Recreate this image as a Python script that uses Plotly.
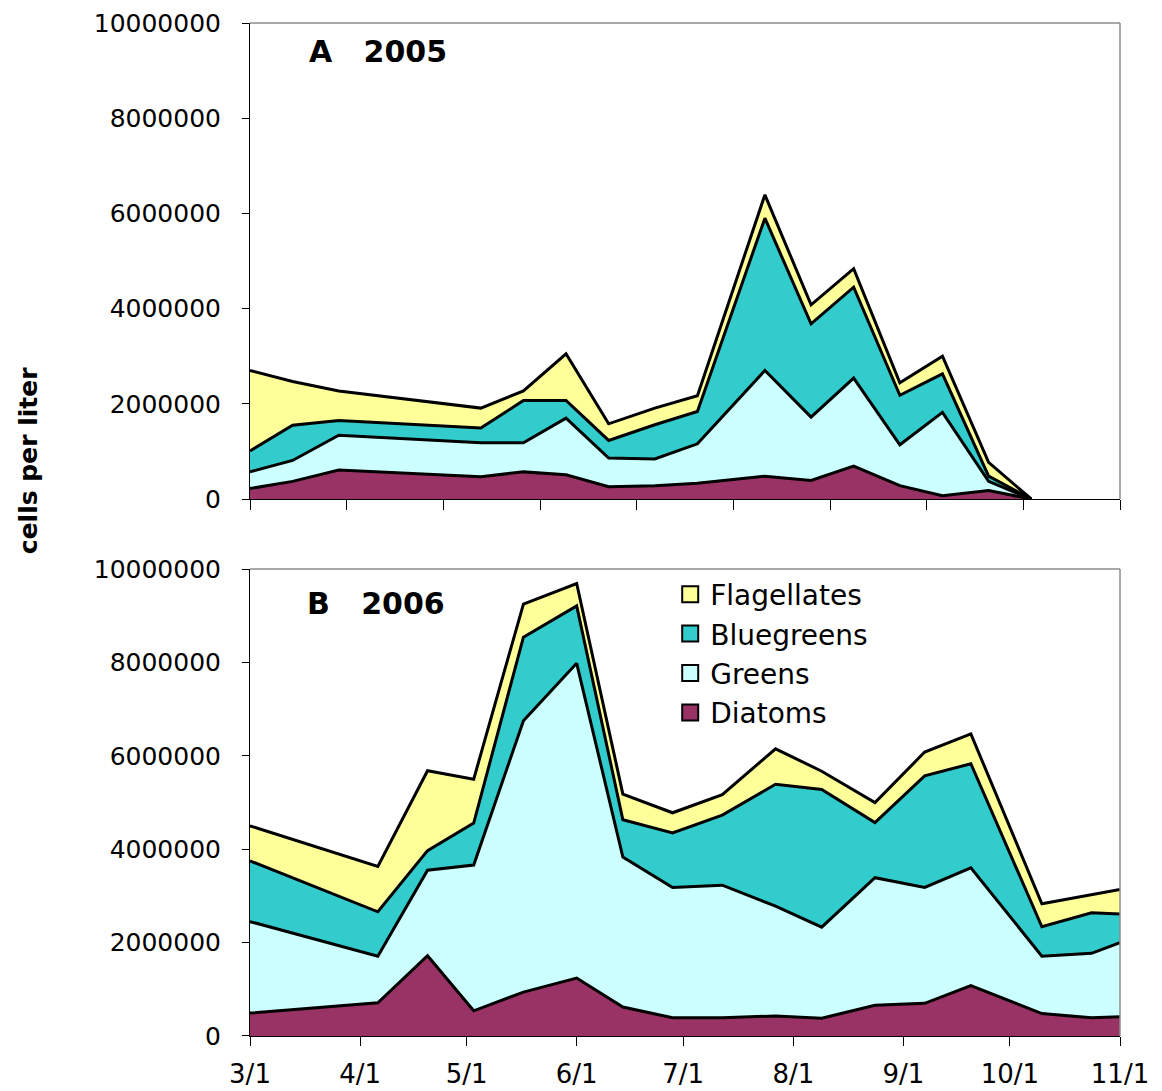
import datetime as dt
import plotly.graph_objects as go
from plotly.subplots import make_subplots

# Sampling dates and phytoplankton densities (cells per liter)
dates_2005 = ["2005-03-01", "2005-03-13", "2005-03-26", "2005-05-05", "2005-05-17",
              "2005-05-29", "2005-06-10", "2005-06-23", "2005-07-05", "2005-07-24",
              "2005-08-06", "2005-08-18", "2005-08-31", "2005-09-12", "2005-09-25",
              "2005-10-07"]
diatoms_2005 = [220000, 370000, 610000, 470000, 570000, 510000, 260000, 280000,
                330000, 480000, 390000, 690000, 280000, 70000, 180000, 0]
greens_2005 = [350000, 440000, 730000, 710000, 610000, 1190000, 600000, 560000,
               830000, 2220000, 1330000, 1850000, 860000, 1750000, 190000, 0]
bluegreens_2005 = [440000, 740000, 310000, 310000, 890000, 370000, 370000, 720000,
                   680000, 3200000, 1960000, 1910000, 1040000, 810000, 110000, 0]
flagellates_2005 = [1690000, 920000, 620000, 420000, 200000, 980000, 350000, 350000,
                    330000, 490000, 400000, 390000, 260000, 370000, 290000, 0]

dates_2006 = ["2006-03-01", "2006-04-06", "2006-04-20", "2006-05-03", "2006-05-17",
              "2006-06-01", "2006-06-14", "2006-06-28", "2006-07-12", "2006-07-27",
              "2006-08-09", "2006-08-24", "2006-09-07", "2006-09-20", "2006-10-10",
              "2006-10-24", "2006-11-01"]
diatoms_2006 = [490000, 710000, 1720000, 540000, 940000, 1240000, 620000, 390000,
                390000, 430000, 380000, 660000, 700000, 1080000, 480000, 390000, 410000]
greens_2006 = [1960000, 1000000, 1830000, 3120000, 5810000, 6740000, 3210000, 2790000,
               2840000, 2350000, 1950000, 2730000, 2480000, 2520000, 1230000, 1380000, 1590000]
bluegreens_2006 = [1300000, 950000, 420000, 900000, 1790000, 1230000, 800000, 1170000,
                   1500000, 2610000, 2950000, 1180000, 2390000, 2230000, 630000, 870000, 610000]
flagellates_2006 = [750000, 970000, 1710000, 940000, 710000, 480000, 550000, 430000,
                    440000, 760000, 390000, 430000, 510000, 640000, 490000, 390000, 530000]

groups = ["Diatoms", "Greens", "Bluegreens", "Flagellates"]
colors = {"Diatoms": "#993366", "Greens": "#CCFFFF",
          "Bluegreens": "#33CCCC", "Flagellates": "#FFFF99"}

panel_labels = ["A   2005", "B   2006"]
month_ticks_2006 = ["2006-03-01", "2006-04-01", "2006-05-01", "2006-06-01", "2006-07-01",
                    "2006-08-01", "2006-09-01", "2006-10-01", "2006-11-01"]
month_labels = ["3/1", "4/1", "5/1", "6/1", "7/1", "8/1", "9/1", "10/1", "11/1"]
y_ticks = [0, 2000000, 4000000, 6000000, 8000000, 10000000]

FONT = "DejaVu Sans"

fig = make_subplots(rows=2, cols=1)

panels = [
    (1, dates_2005, {"Diatoms": diatoms_2005, "Greens": greens_2005,
                     "Bluegreens": bluegreens_2005, "Flagellates": flagellates_2005}),
    (2, dates_2006, {"Diatoms": diatoms_2006, "Greens": greens_2006,
                     "Bluegreens": bluegreens_2006, "Flagellates": flagellates_2006}),
]

for row, dates, data in panels:
    for g in groups:
        fig.add_trace(go.Scatter(
            x=dates, y=data[g], name=g, mode="lines",
            stackgroup=f"yr{row}", fillcolor=colors[g],
            line=dict(color="black", width=3),
            showlegend=False, hoverinfo="skip"),
            row=row, col=1)

# Legend entries (top to bottom)
for g in ["Flagellates", "Bluegreens", "Greens", "Diatoms"]:
    fig.add_trace(go.Scatter(
        x=[None], y=[None], mode="markers", name=g, legendgroup=g,
        marker=dict(symbol="square", size=17, color=colors[g],
                    line=dict(color="black", width=2))),
        row=2, col=1)

axis_common = dict(showline=True, linecolor="black", linewidth=1, automargin=False,
                   ticks="outside", tickcolor="black", showgrid=False, zeroline=False)

# Top panel x-axis: nine equal intervals, unlabeled
start = dt.datetime(2005, 3, 1)
end = dt.datetime(2005, 11, 1)
span = (end - start) / 9
top_ticks = [(start + span * i).strftime("%Y-%m-%d %H:%M") for i in range(10)]

fig.update_xaxes(axis_common, type="date", range=["2005-03-01", "2005-11-01"],
                 tickvals=top_ticks, showticklabels=False, ticklen=10, row=1, col=1)
fig.update_xaxes(axis_common, type="date", range=["2006-03-01", "2006-11-01"],
                 tickvals=month_ticks_2006, ticktext=month_labels, ticklen=9,
                 tickfont=dict(family=FONT, size=26, color="black"),
                 ticklabelstandoff=6, row=2, col=1)

for r in (1, 2):
    fig.update_yaxes(axis_common, range=[0, 10000000], tickvals=y_ticks,
                     ticktext=[str(v) for v in y_ticks], ticklen=7,
                     tickfont=dict(family=FONT, size=25, color="black"),
                     ticklabelstandoff=16, row=r, col=1)

fig.update_layout(
    width=1162, height=1091,
    margin=dict(l=250, r=42, t=23, b=55, autoexpand=False),
    paper_bgcolor="white", plot_bgcolor="white",
    font=dict(family=FONT, color="black"),
    xaxis=dict(domain=[0, 1]), xaxis2=dict(domain=[0, 1]),
    yaxis=dict(domain=[0.5301, 1]), yaxis2=dict(domain=[0, 0.4610]),
    legend=dict(x=0.483, y=0.4605, xanchor="left", yanchor="top",
                font=dict(family=FONT, size=28, color="black"),
                bgcolor="rgba(0,0,0,0)", tracegroupgap=3, traceorder="normal"),
)

# Gray frame on top and right edges of each panel
for xr, yr in (("x domain", "y domain"), ("x2 domain", "y2 domain")):
    fig.add_shape(type="line", xref=xr, yref=yr, x0=0, x1=1, y0=1, y1=1,
                  line=dict(color="#8c8c8c", width=1.5))
    fig.add_shape(type="line", xref=xr, yref=yr, x0=1, x1=1, y0=0, y1=1,
                  line=dict(color="#8c8c8c", width=1.5))

# Panel labels
fig.add_annotation(text="<b>" + panel_labels[0] + "</b>", xref="paper", yref="paper",
                   x=0.0655, y=0.9714, xanchor="left", yanchor="middle", showarrow=False,
                   font=dict(family=FONT, size=30, color="black"))
fig.add_annotation(text="<b>" + panel_labels[1] + "</b>", xref="paper", yref="paper",
                   x=0.0632, y=0.4265, xanchor="left", yanchor="middle", showarrow=False,
                   font=dict(family=FONT, size=30, color="black"))

# Shared y-axis title
fig.add_annotation(text="<b>cells per liter</b>", xref="paper", yref="paper",
                   x=-0.255, y=0.5676, xanchor="center", yanchor="middle",
                   textangle=-90, showarrow=False,
                   font=dict(family=FONT, size=25, color="black"))

fig.write_html("out.html")
